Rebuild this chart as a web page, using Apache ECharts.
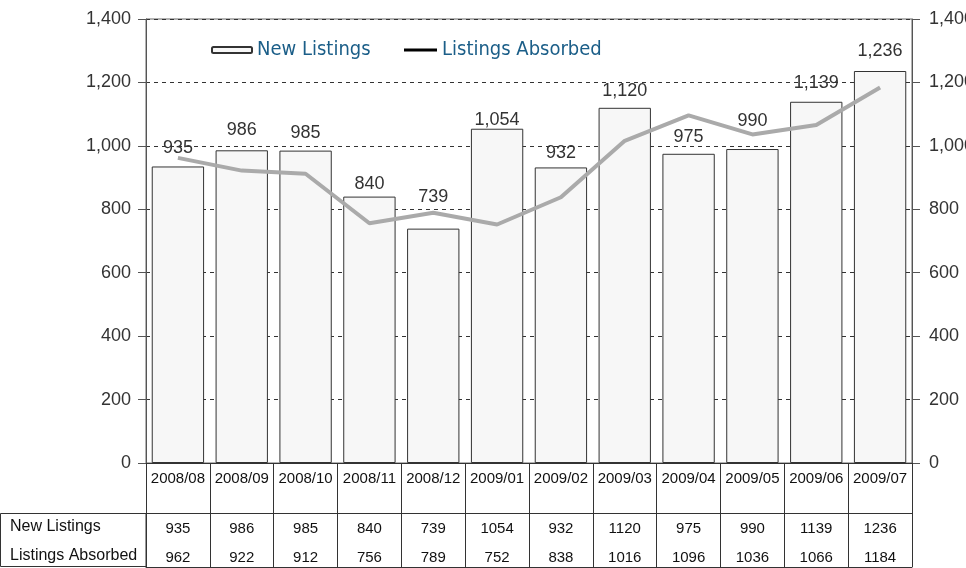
<!DOCTYPE html>
<html>
<head>
<meta charset="utf-8">
<script src="https://cdn.jsdelivr.net/npm/echarts@6/dist/echarts.min.js"></script>
<style>html,body{margin:0;padding:0;background:#fff}#c{width:966px;height:568px}</style>
</head>
<body>
<div id="c"></div>
<script>
const categories = ['2008/08','2008/09','2008/10','2008/11','2008/12','2009/01','2009/02','2009/03','2009/04','2009/05','2009/06','2009/07'];
const newListings = [935, 986, 985, 840, 739, 1054, 932, 1120, 975, 990, 1139, 1236];
const listingsAbsorbed = [962, 922, 912, 756, 789, 752, 838, 1016, 1096, 1036, 1066, 1184];
const rowLabels = ['New Listings', 'Listings Absorbed'];

const NUM_FONT = "'Liberation Sans', Arial, sans-serif";
const LEG_FONT = "'Liberation Sans Narrow', 'DejaVu Sans Condensed', 'Roboto Condensed', sans-serif";
const fmt = v => String(v).replace(/\B(?=(\d{3})+(?!\d))/g, ',');

// label lift above bar top (style only), as placed in the original
const labelDistance = {0: 9, 1: 11, 2: 9, 3: 4, 4: 23, 5: 0, 6: 5, 7: 8, 8: 8, 9: 19, 10: 10, 11: 11};

const chart = echarts.init(document.getElementById('c'), null, {renderer: 'canvas'});
const yAxisBase = {
  type: 'value', min: 0, max: 1400, interval: 200,
  axisLine: {show: true, lineStyle: {color: '#555', width: 1}},
  axisTick: {show: true, length: 8, lineStyle: {color: '#555'}},
  axisLabel: {fontFamily: NUM_FONT, fontSize: 18, color: '#333', formatter: v => fmt(v)},
};
chart.setOption({
  animation: false,
  backgroundColor: '#fff',
  grid: {left: 146, right: 54, top: 19, bottom: 105, containLabel: false, outerBoundsMode: 'none',
         show: true, borderColor: '#666', borderWidth: 1},
  legend: [
    {data: [rowLabels[0]], left: 206, top: 35, itemWidth: 40, itemHeight: 6, itemGap: 10,
     textStyle: {fontFamily: LEG_FONT, fontSize: 20, color: '#1b5e88'}},
    {data: [{name: rowLabels[1], icon: 'rect', itemStyle: {color: '#000', borderWidth: 0}}],
     left: 399, top: 35, itemWidth: 33, itemHeight: 3,
     textStyle: {fontFamily: LEG_FONT, fontSize: 20, color: '#1b5e88'}}
  ],
  xAxis: [
    {type: 'category', data: categories, gridIndex: 0, position: 'bottom',
     axisLine: {show: true, onZero: false, lineStyle: {color: '#333'}},
     axisTick: {show: true, length: 50, interval: 0, lineStyle: {color: '#333'}},
     axisLabel: {fontFamily: NUM_FONT, fontSize: 15, color: '#111', margin: 8, interval: 0}},
    {type: 'category', data: categories, gridIndex: 0, position: 'bottom', offset: 50,
     axisLine: {show: true, onZero: false, lineStyle: {color: '#333'}},
     axisTick: {show: true, length: 54, interval: 0, lineStyle: {color: '#333'}},
     axisLabel: {fontFamily: NUM_FONT, fontSize: 15, color: '#111', margin: 1, lineHeight: 29, interval: 0,
       formatter: (v, i) => newListings[i] + '\n' + listingsAbsorbed[i]}},
    {type: 'category', data: categories, gridIndex: 0, position: 'bottom', offset: 104,
     axisLine: {show: true, onZero: false, lineStyle: {color: '#333'}},
     axisTick: {show: false}, axisLabel: {show: false}}
  ],
  yAxis: [
    Object.assign({}, yAxisBase, {position: 'left', axisLabel: Object.assign({}, yAxisBase.axisLabel, {margin: 15}),
      splitLine: {show: true, lineStyle: {color: '#333', type: [4, 4], width: 1}}}),
    Object.assign({}, yAxisBase, {position: 'right', axisLabel: Object.assign({}, yAxisBase.axisLabel, {margin: 17}),
      splitLine: {show: false}})
  ],
  series: [
    {name: rowLabels[0], type: 'bar', xAxisIndex: 0, yAxisIndex: 0,
     data: newListings.map((v, i) => ({value: v, label: {distance: labelDistance[i]}})),
     barCategoryGap: '18%',
     itemStyle: {color: '#f7f7f7', borderColor: '#333', borderWidth: 1},
     label: {show: true, position: 'top', distance: 9, fontFamily: NUM_FONT, fontSize: 18, color: '#333',
       formatter: p => fmt(p.value)}, z: 2},
    {name: rowLabels[1], type: 'line', data: listingsAbsorbed, xAxisIndex: 0, yAxisIndex: 1,
     symbol: 'none', showSymbol: false,
     lineStyle: {color: '#aaaaaa', width: 4}, itemStyle: {color: '#aaaaaa'}, z: 3}
  ],
  graphic: [
    {type: 'rect', shape: {x: 0.5, y: 513.5, width: 145.5, height: 53}, style: {fill: 'none', stroke: '#333', lineWidth: 1}},
    {type: 'text', left: 10, top: 519, style: {text: rowLabels[0], font: "16px " + NUM_FONT, fill: '#111'}},
    {type: 'text', left: 10, top: 548, style: {text: rowLabels[1], font: "16px " + NUM_FONT, fill: '#111'}}
  ]
});
</script>
</body>
</html>
